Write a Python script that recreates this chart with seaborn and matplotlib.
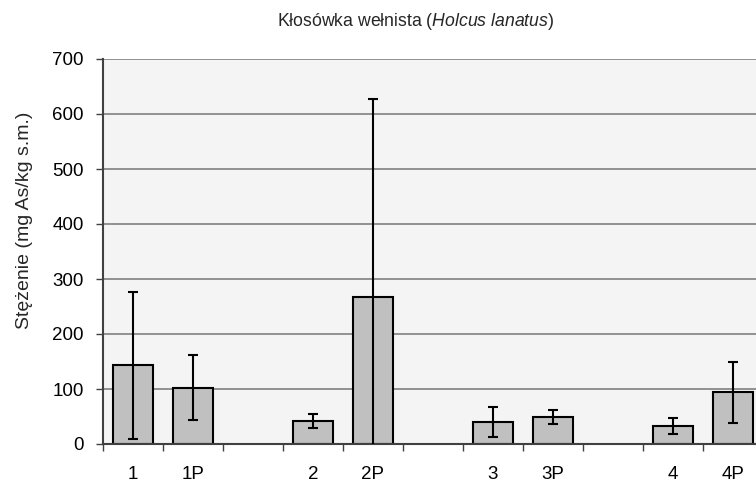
import numpy as np
import pandas as pd
import matplotlib
matplotlib.use('Agg')
import matplotlib.pyplot as plt
import seaborn as sns

# Dane
proby = ['1', '1P', '2', '2P', '3', '3P', '4', '4P']
srednie = [143, 102, 42, 268, 40, 49, 33, 94]
bledy = [133, 59, 12, 359, 28, 12, 14, 56]
kolejnosc = ['1', '1P', ' ', '2', '2P', '  ', '3', '3P', '   ', '4', '4P']

sns.set_theme(style='white')
plt.rcParams['font.family'] = ['Liberation Sans', 'DejaVu Sans']
plt.rcParams['mathtext.fontset'] = 'custom'
plt.rcParams['mathtext.rm'] = 'Liberation Sans'
plt.rcParams['mathtext.it'] = 'Liberation Sans:italic'

df = pd.DataFrame({'proba': proby, 'stezenie': srednie})

fig = plt.figure(figsize=(7.56, 4.82), dpi=100)
ax = fig.add_axes([103 / 756, 38 / 482, 660 / 756, 385 / 482])
ax.set_facecolor('#f4f4f4')

sns.barplot(data=df, x='proba', y='stezenie', order=kolejnosc, color='#c0c0c0',
            saturation=1, width=0.68, edgecolor='black', linewidth=1.5,
            errorbar=None, ax=ax, zorder=2)

pozycje = [kolejnosc.index(p) for p in proby]
ax.errorbar(pozycje, srednie, yerr=bledy, fmt='none', ecolor='black',
            elinewidth=1.5, capsize=3.6, capthick=1.5, zorder=3)

ax.set_ylim(0, 700)
ax.set_xlim(-0.5, 10.5)
ax.set_yticks(np.arange(0, 701, 100))
for v in range(100, 701, 100):
    ax.axhline(v, color='#808080', lw=1.2, zorder=1)

ax.tick_params(axis='x', which='major', length=0, pad=16, labelsize=13.5, colors='black')
ax.set_xticks(np.arange(-0.5, 10.6, 1), minor=True)
ax.tick_params(axis='x', which='minor', length=5, width=1, color='#404040', direction='out', bottom=True)
ax.tick_params(axis='y', length=5, width=1, direction='out', left=True,
               labelsize=13.5, pad=9, color='#404040', labelcolor='black')

for s in ['top', 'right']:
    ax.spines[s].set_visible(False)
ax.spines['left'].set_color('#404040')
ax.spines['left'].set_linewidth(1.5)
ax.spines['bottom'].set_color('#404040')
ax.spines['bottom'].set_linewidth(1.5)

ax.set_xlabel('')
ax.set_ylabel('Stężenie (mg As/kg s.m.)', fontsize=14)
ax.yaxis.set_label_coords(-0.106, 0.58)

fig.text(416 / 756, 1 - 22 / 482, 'Kłosówka wełnista ($\\mathit{Holcus\\ lanatus}$)',
         ha='center', va='center', fontsize=12.7)

plt.savefig('out.png', dpi=100, facecolor='white')
plt.close()
